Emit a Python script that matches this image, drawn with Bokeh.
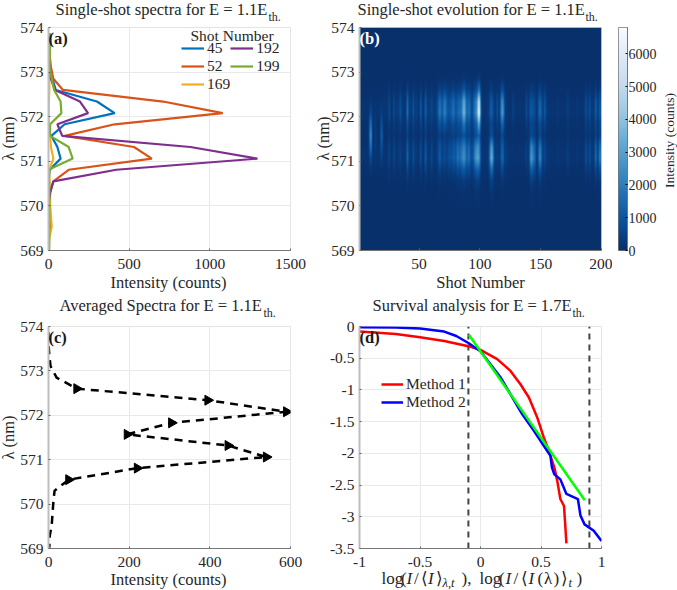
import numpy as np
from bokeh.embed import file_html
from bokeh.resources import INLINE
from bokeh.layouts import column, row
from bokeh.models import Label, Legend, LegendItem, FixedTicker, Range1d, LinearAxis
from bokeh.palettes import Blues256
from bokeh.plotting import figure

SERIF = "Liberation Serif"

# ---- data ----
wavelength = [573.87, 573.62, 573.36, 573.11, 572.85, 572.60, 572.34, 572.08, 571.83, 571.57,
              571.32, 571.06, 570.81, 570.55, 570.30, 570.04, 569.79, 569.53, 569.28, 569.02]
shot_45  = [0, 0, 0, 8, 25, 45, 300, 410, 100, 18, 55, 75, 8, 0, 0, 0, 0, 5, 0, 0]
shot_52  = [5, 5, 8, 15, 30, 90, 710, 1080, 410, 100, 530, 640, 125, 30, 10, 5, 5, 10, 0, 0]
shot_169 = [5, 5, 5, 5, 5, 5, 2, 0, 2, 10, 15, 30, 5, 5, 10, 10, 15, 20, 5, 0]
shot_192 = [0, 0, 0, 5, 15, 40, 195, 245, 55, 85, 880, 1295, 420, 30, 10, 0, 0, 0, 0, 0]
shot_199 = [10, 10, 8, 5, 20, 35, 75, 80, 10, 10, 125, 150, 0, 5, 5, 5, 5, 5, 5, 5]
shot_names = ["45", "52", "169", "192", "199"]
shot_colors = ["#0072BD", "#D95319", "#EDB120", "#7E2F8E", "#77AC30"]

averaged = [0, 0, 2, 5, 20, 70, 395, 590, 305, 195, 445, 540, 220, 50, 15, 12, 10, 8, 3, 2]
averaged_marker_wl = [572.60, 572.34, 572.08, 571.83, 571.57, 571.32, 571.06, 570.81, 570.55]
averaged_marker_i = [70, 395, 590, 305, 195, 445, 540, 220, 50]

method1_x = [-1, -0.7, -0.5, -0.3, -0.1, 0, 0.138, 0.248, 0.33, 0.4, 0.468, 0.523, 0.565, 0.61, 0.634, 0.66, 0.69, 0.70, 0.71]
method1_y = [-0.08, -0.12, -0.17, -0.23, -0.31, -0.37, -0.515, -0.70, -0.91, -1.12, -1.43, -1.75, -1.96, -2.22, -2.43, -2.72, -2.83, -3.12, -3.42]
method2_x = [-1, -0.7, -0.5, -0.3, -0.2, -0.1, 0, 0.165, 0.248, 0.344, 0.44, 0.523, 0.578, 0.59, 0.61, 0.66, 0.71, 0.805, 0.826, 0.86, 0.936, 1]
method2_y = [-0.01, -0.015, -0.03, -0.08, -0.15, -0.26, -0.39, -0.80, -1.07, -1.38, -1.64, -1.88, -2.04, -2.22, -2.33, -2.41, -2.64, -2.72, -2.98, -3.12, -3.22, -3.38]
fit_x = [-0.096, 0.862]
fit_y = [-0.13, -2.74]
threshold_x = [-0.1, 0.9]

heat_shots = [22,25,26,29,30,32,34,35,37,40,41,43,45,46,48,51,52,55,56,58,60,61,63,65,66,67,68,69,70,71,72,73,74,75,76,77,78,79,80,81,82,83,84,85,86,87,88,89,90,91,92,93,94,95,96,97,98,99,100,101,103,106,108,109,110,111,112,114,115,117,118,119,120,122,127,128,138,139,141,142,143,144,145,146,148,149,150,151,153,154,156,164,165,172,173,180,187,188,190,191,193,195,196,198,199,200]
heat_upper = [300,800,400,800,400,500,900,700,400,1900,1000,500,1100,600,600,1200,700,1500,800,500,800,500,500,900,1400,1900,1300,1100,1500,2300,1500,1100,900,900,1100,1300,1800,1300,900,1100,1500,1500,1400,2000,3000,3800,2400,1400,1300,1900,1100,700,800,1500,2000,2300,3400,6800,4000,600,200,300,900,1200,1000,600,300,900,500,1500,2700,2500,1000,300,500,300,800,500,900,1000,1000,800,700,400,900,1500,1300,800,1200,800,300,300,200,500,300,300,900,600,1000,600,400,1400,900,1000,1100,900]
heat_lower = [200,700,300,700,400,300,600,300,300,1600,800,400,1000,500,400,1000,500,1400,700,300,800,400,300,500,800,1200,700,400,600,800,500,500,700,1000,700,900,1200,1100,900,1500,1800,1300,1600,1900,2300,2500,2000,1200,1400,1800,1000,700,800,1500,2200,2800,2800,2900,1600,400,200,300,1900,2900,3500,1500,500,500,300,800,1400,1300,500,500,200,100,500,300,1300,2900,2400,1900,1500,800,1000,2300,2000,900,800,500,300,300,200,500,300,300,1000,600,1000,600,400,1800,1200,1600,2000,1400]
early_shots = [9, 10, 11, 14, 18, 19, 20]
early_values = [900, 3000, 1000, 500, 400, 1500, 400]
upper_band = [0, 0, 0, 0, 0.05, 0.3, 0.85, 1, 0.5, 0.12, 0.02, 0, 0, 0, 0, 0, 0, 0, 0, 0]
lower_band = [0, 0, 0, 0, 0, 0, 0, 0, 0.02, 0.2, 0.8, 1, 0.45, 0.14, 0.05, 0.03, 0, 0, 0, 0]
early_band = [0, 0, 0, 0, 0, 0, 0.05, 0.25, 0.7, 1, 0.7, 0.25, 0.05, 0, 0, 0, 0, 0, 0, 0]
heat_max = 6800

colorbar_ticks = [0, 1000, 2000, 3000, 4000, 5000, 6000]
wl_ticks = [569, 570, 571, 572, 573, 574]
d_x_ticks = [-1, -0.5, 0, 0.5, 1]
d_x_labels = ["-1", "-0.5", "0", "0.5", "1"]
d_y_ticks = [0, -0.5, -1, -1.5, -2, -2.5, -3, -3.5]
d_y_labels = ["0", "-0.5", "-1", "-1.5", "-2", "-2.5", "-3", "-3.5"]

FW, FH1, FH2 = 242, 223, 222


def panel(border_left, border_right, top, bottom, fh, xr, yr, grid=True, fw=FW):
    p = figure(frame_width=fw, frame_height=fh, x_range=Range1d(*xr), y_range=Range1d(*yr),
               min_border_left=border_left, min_border_right=border_right,
               min_border_top=top, min_border_bottom=bottom,
               toolbar_location=None, output_backend="svg", background_fill_color="white")
    p.xaxis.major_label_text_font = SERIF
    p.yaxis.major_label_text_font = SERIF
    p.xaxis.major_label_text_font_size = "15.5px"
    p.yaxis.major_label_text_font_size = "15.5px"
    p.xaxis.major_label_text_color = "#262626"
    p.yaxis.major_label_text_color = "#262626"
    for ax in (p.xaxis[0], p.yaxis[0]):
        ax.major_tick_in = 2
        ax.major_tick_out = 0
        ax.minor_tick_in = 0
        ax.minor_tick_out = 0
        ax.major_label_standoff = 5
        ax.major_tick_line_color = "#666666"
    p.xaxis.major_label_standoff = 8
    p.xaxis.axis_line_color = "#777777"
    p.yaxis.axis_line_color = "#bdbdbd"
    p.yaxis.axis_line_width = 2
    p.outline_line_color = "#e4e4e4"
    p.xgrid.grid_line_color = "#e9e9e9" if grid else None
    p.ygrid.grid_line_color = "#e9e9e9" if grid else None
    return p


# ---- text layer covering the whole page ----
texts = figure(frame_width=677, frame_height=590, x_range=Range1d(0, 677), y_range=Range1d(590, 0),
               x_axis_type=None, y_axis_type=None, min_border=0, toolbar_location=None,
               output_backend="svg", background_fill_color=None, border_fill_color=None,
               outline_line_color=None, styles={"position": "absolute", "left": "0px", "top": "0px"})
texts.grid.visible = False


def text(px, py, s, size=16.5, style="normal", color="#262626", align="left", angle=0):
    shift = 0.3 * size
    x = px - shift if angle else px
    y = py if angle else py - shift
    texts.add_layout(Label(x=x, y=y, text=s, text_font=SERIF, text_font_size=f"{size}px",
                           text_font_style=style, text_color=color, text_align=align,
                           text_baseline="alphabetic", angle=angle, angle_units="deg"))


def title(px_start, px_sub, baseline, s):
    text(px_start, baseline, s)
    text(px_sub, baseline + 6.5, "th.", size=12)


# ---- (a) ----
p1 = panel(48, 19, 27, 40, FH1, (0, 1500), (569, 574))
p1.yaxis.ticker = FixedTicker(ticks=wl_ticks)
p1.xaxis.ticker = FixedTicker(ticks=[0, 500, 1000, 1500])
rends = []
for vals, name, col in zip([shot_45, shot_52, shot_169, shot_192, shot_199], shot_names, shot_colors):
    rends.append(p1.line(vals, wavelength, line_color=col, line_width=2.2))
leg = Legend(items=[LegendItem(label=n, renderers=[r]) for n, r in zip(shot_names, rends)],
             ncols=2, location=(133, 157), background_fill_alpha=0,
             border_line_alpha=0, label_text_font=SERIF, label_text_font_size="15.5px",
             glyph_width=23, glyph_height=12, label_standoff=3, spacing=-1, padding=0, margin=0,
             label_height=14, label_text_color="#262626")
p1.add_layout(leg)
text(190, 40, "Shot Number", size=15.5)
title(55, 268, 14, "Single-shot spectra for E = 1.1E")
text(48, 43, "(a)", style="bold", color="#1a1a1a")
text(168, 287, "Intensity (counts)", align="center")
text(13, 138, "λ (nm)", align="center", angle=90)

# ---- (b) ----
p2 = panel(50, 11, 27, 40, FH1, (1, 200), (569, 574), grid=False)
p2.yaxis.ticker = FixedTicker(ticks=wl_ticks)
p2.xaxis.ticker = FixedTicker(ticks=[50, 100, 150, 200])
U = np.full(200, 120.0)
L = np.full(200, 120.0)
E = np.zeros(200)
U[np.array(heat_shots) - 1] = heat_upper
L[np.array(heat_shots) - 1] = heat_lower
E[np.array(early_shots) - 1] = early_values
wl = np.array(wavelength)
Z = np.outer(upper_band, U) + np.outer(lower_band, L) + np.outer(early_band, E)
# display shading of the read grid, like the interpolated shading of the original
wl_asc = wl[::-1]
Z = Z[::-1, :]
wl_fine = np.linspace(569, 574, 446)
shot_fine = np.linspace(1, 200, 968)
Z_col = np.array([np.interp(wl_fine, wl_asc, Z[:, j]) for j in range(200)]).T
Z_fine = np.array([np.interp(shot_fine, np.arange(1, 201), r) for r in Z_col])
p2.image(image=[Z_fine], x=1, y=569, dw=199, dh=5, palette=Blues256, level="image")
title(357, 585, 14, "Single-shot evolution for E = 1.1E")
text(359, 43, "(b)", style="bold", color="white")
text(480, 287, "Shot Number", align="center")
text(328, 138, "λ (nm)", align="center", angle=90)

# ---- colour bar ----
cb = panel(6, 50, 27, 40, FH1, (0, 1), (0, heat_max), grid=False, fw=9)
cb.yaxis.visible = False
cb.xaxis.visible = False
cb.image(image=[np.arange(heat_max + 1, step=20).reshape(-1, 1)], x=0, y=0, dw=1, dh=heat_max, palette=Blues256)
cb.outline_line_color = "#777777"
cax = LinearAxis(ticker=FixedTicker(ticks=colorbar_ticks), major_label_text_font=SERIF,
                 major_label_text_font_size="14px", major_label_text_color="#262626",
                 major_tick_in=2, major_tick_out=0, minor_tick_in=0, minor_tick_out=0,
                 axis_line_color="#777777", major_label_standoff=1)
cb.add_layout(cax, "right")
text(673, 140, "Intensity (counts)", size=13.5, align="center", angle=90)

# ---- (c) ----
p3 = panel(48, 19, 36, 42, FH2, (0, 600), (569, 574))
p3.yaxis.ticker = FixedTicker(ticks=wl_ticks)
p3.xaxis.ticker = FixedTicker(ticks=[0, 200, 400, 600])
p3.line(averaged, wavelength, line_color="black", line_width=2.5, line_dash="8 6")
p3.scatter(averaged_marker_i, averaged_marker_wl, marker="triangle", size=10, angle=-90,
           angle_units="deg", color="black")
title(59, 263, 310, "Averaged Spectra for E = 1.1E")
text(48, 342, "(c)", style="bold", color="#1a1a1a")
text(168, 584, "Intensity (counts)", align="center")
text(13, 437, "λ (nm)", align="center", angle=90)

# ---- (d) ----
p4 = panel(50, 11, 36, 42, FH2, (-1, 1), (-3.5, 0))
p4.xaxis.ticker = FixedTicker(ticks=d_x_ticks)
p4.xaxis.major_label_overrides = dict(zip(d_x_ticks, d_x_labels))
p4.yaxis.ticker = FixedTicker(ticks=d_y_ticks)
p4.yaxis.major_label_overrides = dict(zip(d_y_ticks, d_y_labels))
for xv in threshold_x:
    p4.line([xv, xv], [-3.5, 0], line_color="#444444", line_width=2, line_dash="6 5")
r_m1 = p4.line(method1_x, method1_y, line_color="#FF0000", line_width=2.5)
r_m2 = p4.line(method2_x, method2_y, line_color="#0000FF", line_width=2.5)
p4.line(fit_x, fit_y, line_color="#00FF00", line_width=2.5)
leg2 = Legend(items=[LegendItem(label="Method 1", renderers=[r_m1]),
                     LegendItem(label="Method 2", renderers=[r_m2])],
              location=(22, 137), background_fill_alpha=0, border_line_alpha=0,
              label_text_font=SERIF, label_text_font_size="15.5px", label_text_color="#262626",
              glyph_width=22, glyph_height=12, label_standoff=3, spacing=-1, padding=0, margin=0,
              label_height=14)
p4.add_layout(leg2)
title(372, 572, 310, "Survival analysis for E = 1.7E")
text(359, 342, "(d)", style="bold", color="#1a1a1a")
for px, s, st in [(381, "log", "normal"), (400.5, "(", "normal"), (406, "I", "italic"), (413.5, "/", "normal"),
                  (420, "⟨", "normal"), (427.5, "I", "italic"), (435, "⟩", "normal"), (461, "),", "normal"),
                  (479, "log", "normal"), (498.5, "(", "normal"), (505, "I", "italic"), (513, "/", "normal"),
                  (520, "⟨", "normal"), (528, "I", "italic"), (537, "(", "normal"), (543.5, "λ", "normal"),
                  (553, ")", "normal"), (560, "⟩", "normal"), (576, ")", "normal")]:
    text(px, 583, s, size=17, style=st)
text(442, 586, "λ,t", size=12.5, style="italic")
text(568, 586, "t", size=12.5, style="italic")

layout = column(row(p1, p2, cb, spacing=0), row(p3, p4, spacing=0), texts, spacing=0)
open("out.html", "w").write(file_html(layout, INLINE))
